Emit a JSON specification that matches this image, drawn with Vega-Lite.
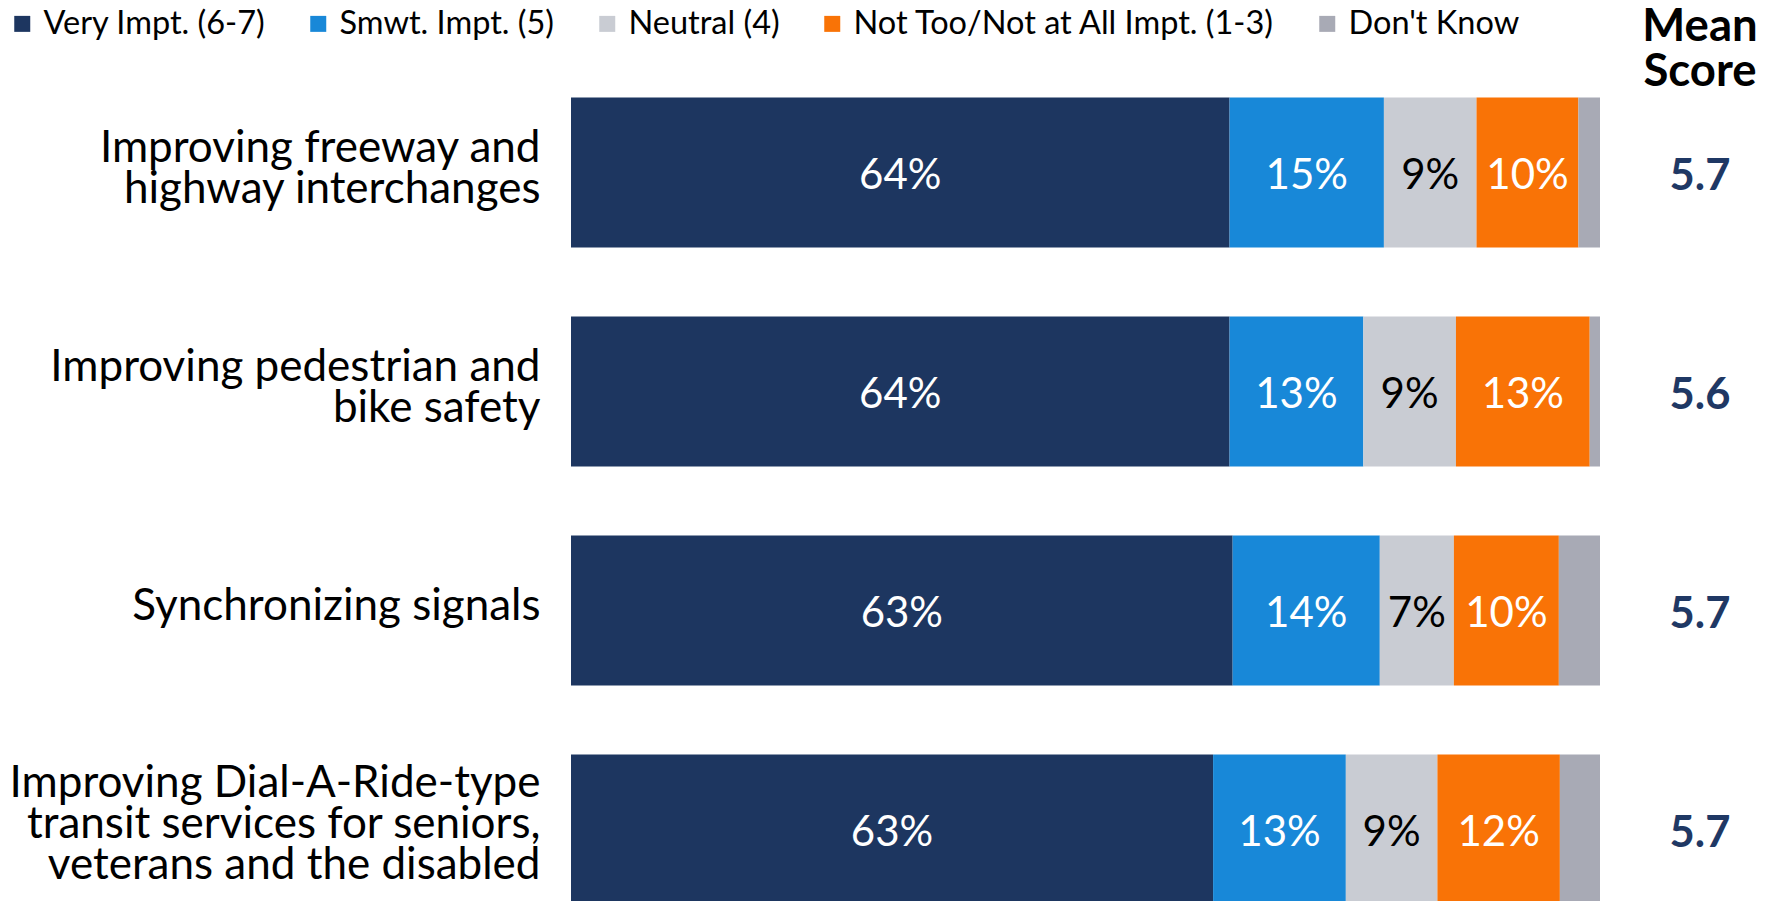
{
  "$schema": "https://vega.github.io/schema/vega-lite/v6.json",
  "autosize": {"type": "pad"},
  "padding": {"left": 6, "top": 4, "right": 0, "bottom": 0},
  "background": "white",
  "config": {"font": "Lato", "view": {"stroke": null}},
  "datasets": {
    "resp": [
      {"item": "Improving freeway and\nhighway interchanges", "resp": "Very Impt. (6-7)", "k": 1, "value": 64.0, "label": "64%"},
      {"item": "Improving freeway and\nhighway interchanges", "resp": "Smwt. Impt. (5)", "k": 2, "value": 15.0, "label": "15%"},
      {"item": "Improving freeway and\nhighway interchanges", "resp": "Neutral (4)", "k": 3, "value": 9.0, "label": "9%"},
      {"item": "Improving freeway and\nhighway interchanges", "resp": "Not Too/Not at All Impt. (1-3)", "k": 4, "value": 9.9, "label": "10%"},
      {"item": "Improving freeway and\nhighway interchanges", "resp": "Don't Know", "k": 5, "value": 2.1, "label": ""},
      {"item": "Improving pedestrian and\nbike safety", "resp": "Very Impt. (6-7)", "k": 1, "value": 64.0, "label": "64%"},
      {"item": "Improving pedestrian and\nbike safety", "resp": "Smwt. Impt. (5)", "k": 2, "value": 13.0, "label": "13%"},
      {"item": "Improving pedestrian and\nbike safety", "resp": "Neutral (4)", "k": 3, "value": 9.0, "label": "9%"},
      {"item": "Improving pedestrian and\nbike safety", "resp": "Not Too/Not at All Impt. (1-3)", "k": 4, "value": 13.0, "label": "13%"},
      {"item": "Improving pedestrian and\nbike safety", "resp": "Don't Know", "k": 5, "value": 1.0, "label": ""},
      {"item": "Synchronizing signals", "resp": "Very Impt. (6-7)", "k": 1, "value": 64.3, "label": "63%"},
      {"item": "Synchronizing signals", "resp": "Smwt. Impt. (5)", "k": 2, "value": 14.3, "label": "14%"},
      {"item": "Synchronizing signals", "resp": "Neutral (4)", "k": 3, "value": 7.2, "label": "7%"},
      {"item": "Synchronizing signals", "resp": "Not Too/Not at All Impt. (1-3)", "k": 4, "value": 10.2, "label": "10%"},
      {"item": "Synchronizing signals", "resp": "Don't Know", "k": 5, "value": 4.0, "label": ""},
      {"item": "Improving Dial-A-Ride-type\ntransit services for seniors,\nveterans and the disabled", "resp": "Very Impt. (6-7)", "k": 1, "value": 62.4, "label": "63%"},
      {"item": "Improving Dial-A-Ride-type\ntransit services for seniors,\nveterans and the disabled", "resp": "Smwt. Impt. (5)", "k": 2, "value": 12.9, "label": "13%"},
      {"item": "Improving Dial-A-Ride-type\ntransit services for seniors,\nveterans and the disabled", "resp": "Neutral (4)", "k": 3, "value": 8.9, "label": "9%"},
      {"item": "Improving Dial-A-Ride-type\ntransit services for seniors,\nveterans and the disabled", "resp": "Not Too/Not at All Impt. (1-3)", "k": 4, "value": 11.9, "label": "12%"},
      {"item": "Improving Dial-A-Ride-type\ntransit services for seniors,\nveterans and the disabled", "resp": "Don't Know", "k": 5, "value": 3.9, "label": ""}
    ],
    "means": [
      {"item": "Improving freeway and\nhighway interchanges", "mean": 5.7},
      {"item": "Improving pedestrian and\nbike safety", "mean": 5.6},
      {"item": "Synchronizing signals", "mean": 5.7},
      {"item": "Improving Dial-A-Ride-type\ntransit services for seniors,\nveterans and the disabled", "mean": 5.7}
    ]
  },
  "spacing": 19,
  "hconcat": [
    {
      "width": 1029,
      "height": 876,
      "data": {"name": "resp"},
      "layer": [
        {
          "mark": {"type": "bar"},
          "encoding": {
            "y": {"field": "item", "type": "nominal", "sort": null, "title": null,
              "scale": {"paddingInner": 0.315, "paddingOuter": 0.1575},
              "axis": {"labelExpr": "split(datum.label, '\\n')", "labelFontSize": 44, "labelLineHeight": 41, "labelPadding": 31, "ticks": false, "domain": false, "labelColor": "black", "labelLimit": 700,
                "labelOffset": {"condition": [
                  {"test": "length(split(datum.value, '\\n')) == 3", "value": -45.5},
                  {"test": "length(split(datum.value, '\\n')) == 2", "value": -24}
                ], "value": -4}}},
            "x": {"field": "value", "type": "quantitative", "stack": "zero", "scale": {"domain": [0, 100], "nice": false}, "axis": null},
            "order": {"field": "k", "type": "quantitative"},
            "color": {"field": "resp", "type": "nominal",
              "scale": {"domain": ["Very Impt. (6-7)", "Smwt. Impt. (5)", "Neutral (4)", "Not Too/Not at All Impt. (1-3)", "Don't Know"],
                        "range": ["#1d3660", "#1888d8", "#c9ccd3", "#f97306", "#a8aab5"]},
              "legend": {"title": null, "orient": "none", "direction": "horizontal", "legendX": -565, "legendY": -55.5, "padding": 0,
                "symbolType": "square", "symbolSize": 256, "symbolStrokeWidth": 0, "labelFontSize": 32.5, "labelOffset": 5,
                "columnPadding": 36, "labelLimit": 1000, "labelColor": "black"}}
          }
        },
        {
          "transform": [{"filter": "datum.label != ''"}],
          "mark": {"type": "text", "fontSize": 42, "baseline": "middle", "align": "center", "dy": 3},
          "encoding": {
            "y": {"field": "item", "type": "nominal", "sort": null},
            "x": {"field": "value", "type": "quantitative", "stack": "zero", "bandPosition": 0.5},
            "order": {"field": "k", "type": "quantitative"},
            "text": {"field": "label"},
            "color": {"condition": {"test": "datum.resp == 'Neutral (4)'", "value": "black"}, "value": "white"}
          }
        }
      ]
    },
    {
      "width": 160,
      "height": 876,
      "data": {"name": "means"},
      "title": {"text": ["Mean", "Score"], "fontSize": 45.5, "fontWeight": "bold", "anchor": "middle", "lineHeight": 45, "offset": -32.4, "color": "black"},
      "mark": {"type": "text", "fontSize": 43.5, "fontWeight": "bold", "color": "#1f3864", "baseline": "middle", "dy": 4.5},
      "encoding": {
        "y": {"field": "item", "type": "nominal", "sort": null, "axis": null, "scale": {"paddingInner": 0.315, "paddingOuter": 0.1575}},
        "text": {"field": "mean", "type": "quantitative", "format": ".1f"}
      }
    }
  ]
}
